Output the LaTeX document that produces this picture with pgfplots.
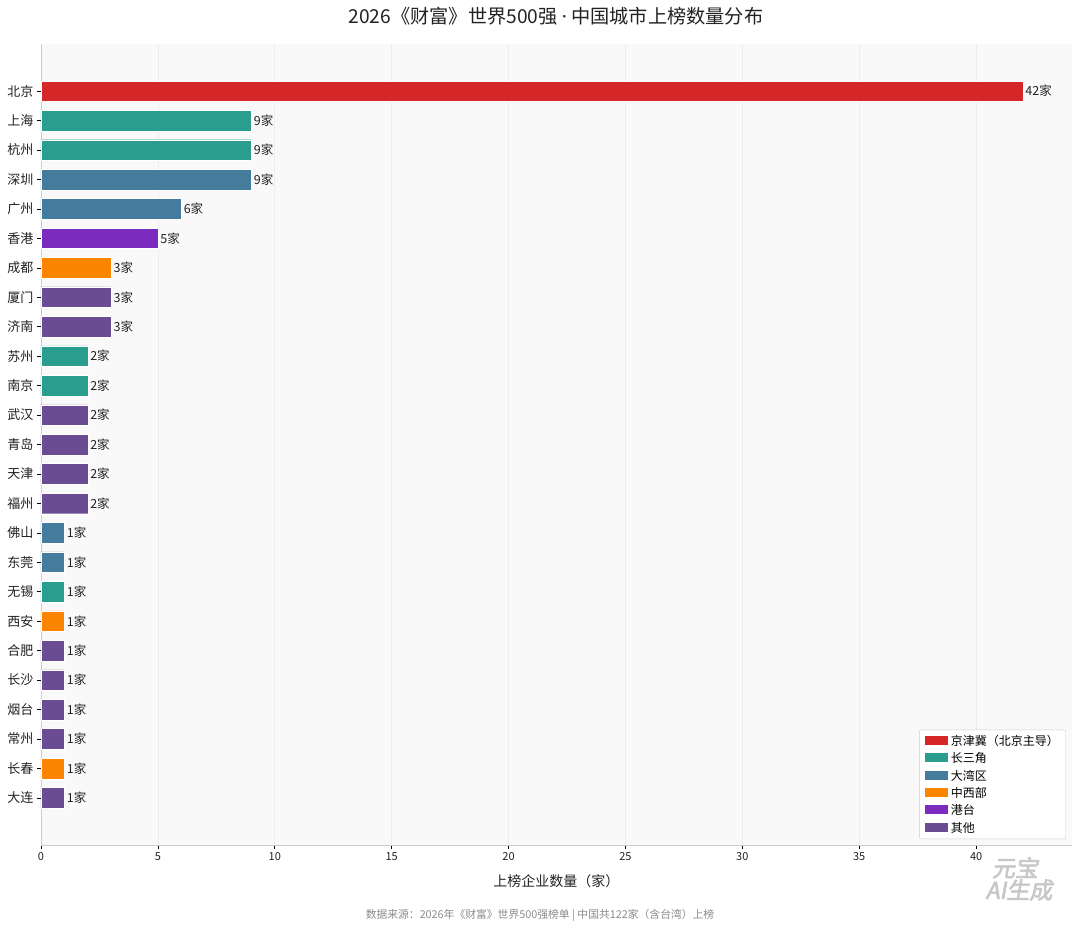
\documentclass[border=0pt]{standalone}
\usepackage{pgfplots}
\pgfplotsset{compat=1.18}
\usepackage{fontspec}
\setmainfont{Noto Sans CJK SC}
\newfontfamily\latinfont{Noto Sans}
\newfontfamily\wmfont[FakeSlant=0.18,FakeBold=2.5]{Noto Sans CJK SC}
\definecolor{cJJJ}{HTML}{D62728}
\definecolor{cCSJ}{HTML}{2A9D8F}
\definecolor{cDWQ}{HTML}{457B9D}
\definecolor{cZXB}{HTML}{FB8500}
\definecolor{cGT}{HTML}{7B2CBF}
\definecolor{cQT}{HTML}{6A4C93}
\definecolor{bgc}{HTML}{F9F9F9}
\definecolor{spine}{HTML}{CCCCCC}
\definecolor{txt}{HTML}{222222}
\begin{document}
\begin{tikzpicture}[x=1pt,y=1pt]
\path[use as bounding box,fill=white] (-41,-85) rectangle (1039,845);
\begin{axis}[
  at={(0,0)}, anchor=south west,
  scale only axis, width=1031pt, height=801pt,
  xmin=0, xmax=44.1,
  ymin=-1.6, ymax=25.6, y dir=reverse,
  axis background/.style={fill=bgc},
  axis x line*=bottom, axis y line*=left,
  axis line style={spine, line width=0.8pt},
  xtick={0,5,...,40},
  ytick={0,...,24},
  yticklabels={北京,上海,杭州,深圳,广州,香港,成都,厦门,济南,苏州,南京,武汉,青岛,天津,福州,佛山,东莞,无锡,西安,合肥,长沙,烟台,常州,长春,大连},
  tick style={black, line width=0.6pt},
  tick align=outside, major tick length=4pt,
  xticklabel style={font=\fontsize{11}{13}\selectfont, text=txt},
  yticklabel style={font=\fontsize{13}{15}\selectfont, text=txt},
  /pgf/number format/assume math mode=true,
  xmajorgrids, grid style={black!7, line width=0.6pt},
  xlabel={上榜企业数量（家）},
  xlabel style={font=\fontsize{14}{16}\selectfont, text=txt, yshift=-7pt},
  xbar, bar width=0.7, bar shift=0pt,
  every axis plot/.append style={draw=white, line width=0.4pt},
  nodes near coords={\pgfmathprintnumber{\pgfplotspointmeta}家},
  point meta=explicit,
  nodes near coords style={font=\fontsize{12.5}{14}\selectfont, text=txt, anchor=west, xshift=-1pt},
  legend style={at={(1,0)}, anchor=south east, xshift=-6pt, yshift=6pt,
    font=\fontsize{12}{14}\selectfont, draw=spine, fill=white, rounded corners=2pt,
    row sep=1.8pt, inner xsep=5pt, inner ysep=3pt},
  legend cell align=left,
  legend image code/.code={\fill[#1, sharp corners] (0pt,-4pt) rectangle (24pt,6pt);},
]
\addplot[fill=cJJJ] coordinates {(42,0) [42]};
\addplot[fill=cCSJ] coordinates {(9,1) [9] (9,2) [9] (2,9) [2] (2,10) [2] (1,17) [1]};
\addplot[fill=cDWQ] coordinates {(9,3) [9] (6,4) [6] (1,15) [1] (1,16) [1]};
\addplot[fill=cZXB] coordinates {(3,6) [3] (1,18) [1] (1,23) [1]};
\addplot[fill=cGT] coordinates {(5,5) [5]};
\addplot[fill=cQT] coordinates {(3,7) [3] (3,8) [3] (2,11) [2] (2,12) [2] (2,13) [2] (2,14) [2] (1,19) [1] (1,20) [1] (1,21) [1] (1,22) [1] (1,24) [1]};
\legend{京津冀（北京主导）,长三角,大湾区,中西部,港台,其他}
\end{axis}
\node[font=\fontsize{19.2}{22}\selectfont, text=txt] at (515,829) {2026《财富》世界500强 {\latinfont·} 中国城市上榜数量分布};
\node[font=\fontsize{10.8}{12}\selectfont, text=black!45] at (499,-70) {数据来源：2026年《财富》世界500强榜单 | 中国共122家（含台湾）上榜};
\node[font=\wmfont\fontsize{23}{21}\selectfont, text=black!22, align=center, inner sep=0pt] at (978,-34) {\hspace*{-8pt}元宝\\AI生成};
\end{tikzpicture}
\end{document}
